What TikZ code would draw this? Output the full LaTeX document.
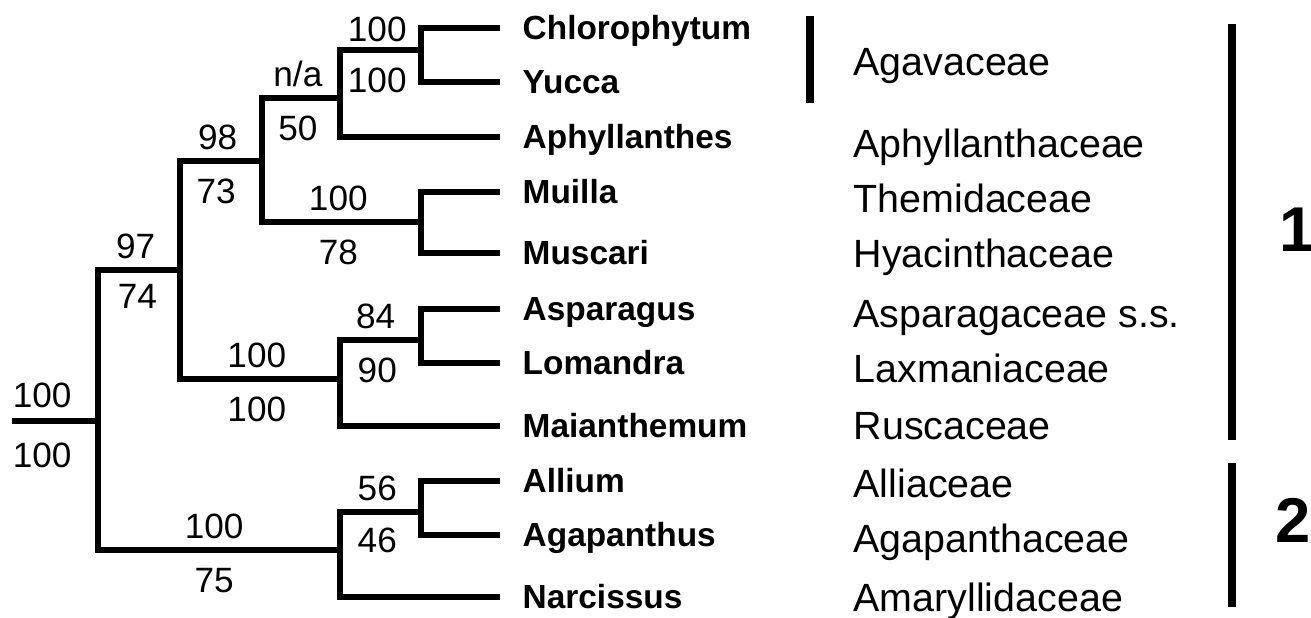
\documentclass[tikz,border=0pt]{standalone}
\usepackage{fontspec}
\setmainfont{Liberation Sans}
\usetikzlibrary{positioning}
\tikzset{
  branch/.style={line width=1.7pt, line join=miter},
  support/.style={font=\fontsize{10}{12}\selectfont, inner sep=0pt, text height=7.1pt, text depth=0pt},
  taxon/.style={font=\bfseries\fontsize{9.5}{11}\selectfont, inner sep=0pt, text height=6.8pt, text depth=0pt},
  family/.style={font=\fontsize{11.2}{13}\selectfont, anchor=base west, inner sep=0pt},
  groupbar/.style={line width=2pt},
  groupnum/.style={font=\bfseries\fontsize{18}{20}\selectfont, anchor=west, inner sep=0pt},
}

\begin{document}
\begin{tikzpicture}[x=0.01cm, y=-0.01cm]
                % Canvas
                \fill[white] (0,0) rectangle (1311,617);
                \useasboundingbox (0,0) rectangle (1311,617);

                % Internal nodes of the tree
                \coordinate (base) at (12,421);
                \coordinate (root) at (98,421);
                \coordinate (nA) at (180,270);
                \coordinate (nB) at (262,161);
                \coordinate (nC) at (340,98);
                \coordinate (nD) at (421,50);
                \coordinate (nE) at (421,222);
                \coordinate (nF) at (340,379);
                \coordinate (nG) at (421,340);
                \coordinate (nH) at (340,550);
                \coordinate (nI) at (421,512);

                % Tips and genus names
                \foreach \nm/\y/\txt in {chl/28/Chlorophytum, yuc/82/Yucca, aph/137/Aphyllanthes,
                    mui/192/Muilla, mus/253/Muscari, asp/309/Asparagus, lom/363/Lomandra,
                    mai/426/Maianthemum, all/481/Allium, aga/535/Agapanthus, nar/597/Narcissus} {
                    \coordinate (t\nm) at (500,\y);
                    \node[taxon, right=0.22cm of t\nm] (\nm) {\txt};
                }

                % Root branch
                \draw[branch] (base) -- (root)
                    node[pos=0.35, above=3pt, support] {100}
                    node[pos=0.35, below=5.3pt, support] {100};

                % Branches with support values
                \draw[branch] (root) |- (nA)
                    node[pos=0.73, above=2.4pt, support] {97}
                    node[pos=0.74, below=2.9pt, support] {74};
                \draw[branch] (root) |- (nH)
                    node[pos=0.74, above=2.4pt, support] {100}
                    node[pos=0.74, below=4.1pt, support] {75};
                \draw[branch] (nA) |- (nB)
                    node[pos=0.73, above=2.4pt, support] {98}
                    node[pos=0.72, below=4.1pt, support] {73};
                \draw[branch] (nA) |- (nF)
                    node[pos=0.74, above=2.4pt, support] {100}
                    node[pos=0.74, below=4.1pt, support] {100};
                \draw[branch] (nB) |- (nC)
                    node[pos=0.73, above=2.4pt, support] {n/a}
                    node[pos=0.73, below=4.1pt, support] {50};
                \draw[branch] (nB) |- (nE)
                    node[pos=0.74, above=2.4pt, support] {100}
                    node[pos=0.74, below=4.1pt, support] {78};
                \draw[branch] (nC) |- (nD)
                    node[pos=0.73, above=1.6pt, support] {100}
                    node[pos=0.73, below=4.1pt, support] {100};
                \draw[branch] (nF) |- (nG)
                    node[pos=0.72, above=2.4pt, support] {84}
                    node[pos=0.73, below=4.1pt, support] {90};
                \draw[branch] (nH) |- (nI)
                    node[pos=0.73, above=2.4pt, support] {56}
                    node[pos=0.73, below=3.6pt, support] {46};

                % Branches to the tips
                \draw[branch] (nD) |- (tchl);
                \draw[branch] (nD) |- (tyuc);
                \draw[branch] (nC) |- (taph);
                \draw[branch] (nE) |- (tmui);
                \draw[branch] (nE) |- (tmus);
                \draw[branch] (nG) |- (tasp);
                \draw[branch] (nG) |- (tlom);
                \draw[branch] (nF) |- (tmai);
                \draw[branch] (nI) |- (tall);
                \draw[branch] (nI) |- (taga);
                \draw[branch] (nH) |- (tnar);

                % Families
                \foreach \y/\txt in {75/Agavaceae, 157/Aphyllanthaceae, 212/Themidaceae,
                    267/Hyacinthaceae, 327/Asparagaceae s.s., 382/Laxmaniaceae, 439/Ruscaceae,
                    497/Alliaceae, 552/Agapanthaceae, 611/Amaryllidaceae} {
                    \node[family] at (853,\y) {\txt};
                }

                % Group bars
                \draw[groupbar] (810,16) -- (810,103);
                \draw[groupbar] (1232,24) -- (1232,440);
                \draw[groupbar] (1232,463) -- (1232,607);
                \node[groupnum] (g1) at (1279,230) {1};
                \node[groupnum] (g2) at (1275,520) {2};
            \end{tikzpicture}
\end{document}
